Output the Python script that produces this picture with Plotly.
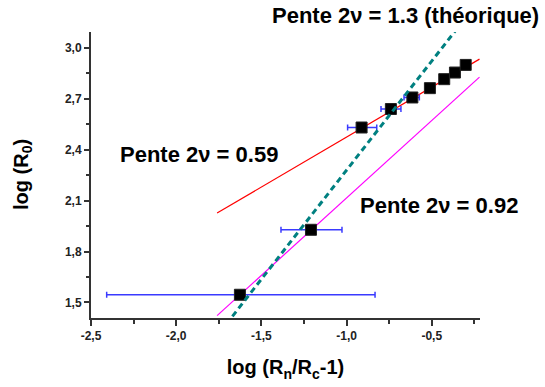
import plotly.graph_objects as go

# measured points (black squares) with horizontal error bars
x_pts = [-1.626, -1.209, -0.912, -0.740, -0.614, -0.511, -0.427, -0.364, -0.301]
y_pts = [1.545, 1.928, 2.531, 2.640, 2.708, 2.763, 2.816, 2.855, 2.900]
err_plus = [0.793, 0.182, 0.089, 0.059, 0.041, 0.020, 0.015, 0.012, 0.010]
err_minus = [0.782, 0.176, 0.082, 0.058, 0.049, 0.025, 0.015, 0.012, 0.010]

# fitted / theoretical lines
red_x = [-1.76, -0.22]
red_y = [2.027, 2.934]
mag_x = [-1.76, -0.22]
mag_y = [1.422, 2.828]
teal_x = [-1.67, -0.36]
teal_y = [1.418, 3.103]

x_tickvals = [-2.5, -2.0, -1.5, -1.0, -0.5]
x_ticktext = ["-2,5", "-2,0", "-1,5", "-1,0", "-0,5"]
y_tickvals = [1.5, 1.8, 2.1, 2.4, 2.7, 3.0]
y_ticktext = ["1,5", "1,8", "2,1", "2,4", "2,7", "3,0"]

FONT = "Liberation Sans, Arial, sans-serif"

# plot area in pixels
L, R, T, B = 91, 480, 32, 318


def paper(px_, py_):
    return (px_ - L) / (R - L), (B - py_) / (B - T)


fig = go.Figure()

fig.add_trace(go.Scatter(x=red_x, y=red_y, mode="lines",
                         line=dict(color="#ff0000", width=1.2), showlegend=False))
fig.add_trace(go.Scatter(x=mag_x, y=mag_y, mode="lines",
                         line=dict(color="#ff00ff", width=1.2), showlegend=False))
fig.add_trace(go.Scatter(x=x_pts, y=y_pts, mode="markers",
                         marker=dict(symbol="square", size=11, color="black",
                                     line=dict(color="#222", width=1)),
                         error_x=dict(type="data", array=err_plus, arrayminus=err_minus,
                                      color="#3a3aff", thickness=1.5, width=3),
                         showlegend=False))
fig.add_trace(go.Scatter(x=teal_x, y=teal_y, mode="lines",
                         line=dict(color="#008080", width=3, dash="6px,4px"), showlegend=False))

ann_font = dict(family=FONT, size=22, color="black", weight="bold")
labels = [("Pente 2ν = 1.3 (théorique)", 405, 16),
          ("Pente 2ν = 0.59", 199, 154),
          ("Pente 2ν = 0.92", 439, 205)]
for txt, px_, py_ in labels:
    ax, ay = paper(px_, py_)
    fig.add_annotation(text=txt, x=ax, y=ay, xref="paper", yref="paper",
                       xanchor="center", yanchor="middle", showarrow=False, font=ann_font)

# y axis title placed as rotated annotation
tx, ty = paper(22, 175)
fig.add_annotation(text="log (R<sub>0</sub>)", x=tx, y=ty, xref="paper", yref="paper",
                   xanchor="center", yanchor="middle", textangle=-90, showarrow=False,
                   font=dict(family=FONT, size=20, color="black", weight="bold"))

fig.update_layout(
    width=545, height=387,
    margin=dict(l=L, r=545 - R, t=T, b=387 - B),
    plot_bgcolor="white", paper_bgcolor="white",
    font=dict(family=FONT, color="black"),
)

fig.update_xaxes(range=[-2.5, -0.217], showgrid=False, zeroline=False, automargin=False,
                 showline=True, linecolor="#333", linewidth=2,
                 ticks="outside", ticklen=6, tickwidth=1.5, tickcolor="#333",
                 tickvals=x_tickvals, ticktext=x_ticktext,
                 tickfont=dict(family=FONT, size=12, color="#222", weight="bold"),
                 minor=dict(ticks="outside", ticklen=4, tickwidth=1.5, tickcolor="#333",
                            tick0=-2.25, dtick=0.5, showgrid=False),
                 title=dict(text="log (R<sub>n</sub>/R<sub>c</sub>-1)", standoff=18,
                            font=dict(family=FONT, size=20, color="black", weight="bold")))
fig.update_yaxes(range=[1.408, 3.094], showgrid=False, zeroline=False, automargin=False,
                 showline=True, linecolor="#333", linewidth=2,
                 ticks="outside", ticklen=5, tickwidth=1.5, tickcolor="#333",
                 tickvals=y_tickvals, ticktext=y_ticktext,
                 tickfont=dict(family=FONT, size=12, color="#222", weight="bold"),
                 minor=dict(ticks="outside", ticklen=3, tickwidth=1.5, tickcolor="#333",
                            tick0=1.35, dtick=0.3, showgrid=False))

# drop the default 8px page margin so the figure sits at the window's corner
fig.write_html("out.html", config={"displayModeBar": False},
               post_script="document.body.style.margin='0';")
